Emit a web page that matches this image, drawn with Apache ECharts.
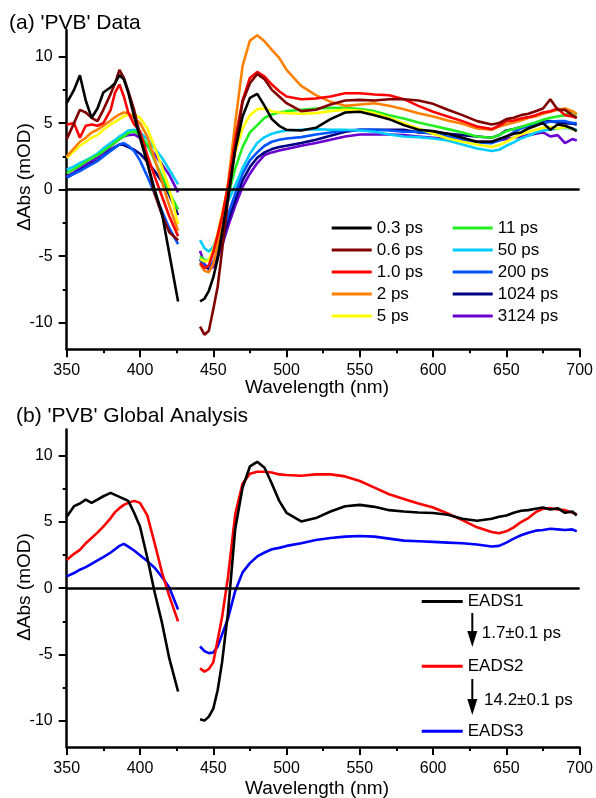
<!DOCTYPE html>
<html><head><meta charset="utf-8">
<script src="https://cdn.jsdelivr.net/npm/echarts@6/dist/echarts.min.js"></script>
<style>html,body{margin:0;padding:0;background:#fff}#c{width:596px;height:798px}</style>
</head><body><div id="c"></div>
<script>
// wavelength grid (nm); 433 is the pump-scatter gap (no data)
const wl = [350,355,359,363,367,371,375,380,383,386,389,392,396,400,405,410,415,420,426,433,
  441,444,447,450,453,456,460,465,470,475,480,485,490,495,500,510,520,530,540,550,560,570,580,590,600,610,620,630,640,645,650,655,660,665,670,675,680,685,690,695,698];

// (a) transient spectra, mOD
const p03 = [6.5,7.5,8.6,6.7,5.4,6.1,7.3,7.7,8.0,8.6,8.3,7.3,5.5,3.9,2.0,0.0,-1.8,-4.8,-8.4,null,
  -8.4,-8.2,-7.6,-6.6,-5.2,-3.2,-0.6,3.0,5.5,6.9,7.2,6.3,5.3,4.8,4.5,4.45,4.65,5.3,5.8,5.85,5.6,5.3,4.85,4.5,4.4,4.2,3.9,3.6,3.6,3.8,4.0,4.2,4.3,4.6,4.8,5.0,4.5,4.9,4.8,4.6,4.4];
const p06 = [3.8,5.0,6.0,5.8,5.4,5.15,6.0,7.2,8.0,9.0,8.4,7.4,6.0,4.1,2.1,-0.3,-1.9,-3.2,-3.8,null,
  -10.3,-10.9,-10.6,-9.0,-7.3,-4.6,-0.8,3.1,6.6,8.0,8.7,8.3,7.5,7.0,6.5,5.9,6.0,6.4,6.7,6.75,6.7,6.8,6.8,6.7,6.45,6.0,5.6,5.15,4.9,5.0,5.3,5.4,5.6,5.7,5.9,6.1,6.8,6.0,6.0,5.6,5.4];
const p10 = [4.9,5.0,3.9,4.8,4.9,4.8,5.0,6.0,7.3,7.9,7.0,5.8,4.9,4.4,2.6,1.0,-0.5,-2.0,-3.5,null,
  -5.5,-5.9,-5.7,-4.7,-3.4,-2.0,0.2,3.8,6.7,8.4,8.85,8.5,7.9,7.4,7.0,6.8,6.85,7.0,7.25,7.25,7.15,7.1,6.8,6.3,5.85,5.5,5.15,4.75,4.55,4.8,5.15,5.2,5.35,5.45,5.6,5.8,5.9,6.1,5.6,5.5,5.4];
const p2 = [2.5,3.1,3.6,3.9,4.3,4.5,4.8,5.2,5.45,5.65,5.8,5.75,5.4,5.0,4.0,2.3,0.6,-1.2,-3.1,null,
  -5.6,-6.1,-6.2,-5.6,-4.2,-2.3,0.4,5.0,9.3,11.2,11.6,11.15,10.5,9.9,9.0,7.8,7.1,6.6,6.3,6.4,6.5,6.3,6.05,5.75,5.5,5.2,4.95,4.6,4.5,4.75,4.9,5.05,5.2,5.4,5.5,5.7,5.85,6.0,6.1,5.9,5.7];
const p5 = [2.4,2.9,3.3,3.6,3.9,4.1,4.5,4.9,5.1,5.3,5.5,5.65,5.65,5.4,4.6,3.2,1.7,0.1,-2.6,null,
  -5.2,-5.4,-5.3,-4.5,-3.3,-1.8,0.2,2.8,4.6,5.6,6.05,6.1,5.9,5.8,5.75,5.7,5.75,5.9,6.0,5.95,5.75,5.4,5.0,4.6,4.2,3.85,3.6,3.4,3.2,3.35,3.6,3.9,4.15,4.35,4.5,4.65,4.7,4.6,4.7,4.55,4.4];
const p11 = [1.25,1.55,1.8,2.1,2.35,2.6,2.9,3.3,3.55,3.8,4.0,4.25,4.4,4.1,3.4,2.2,1.0,-0.2,-1.5,null,
  -5.0,-5.3,-5.3,-4.7,-3.6,-2.3,-0.5,1.6,3.2,4.3,4.85,5.4,5.65,5.8,5.9,6.0,6.1,6.15,6.15,6.05,5.9,5.6,5.35,5.05,4.8,4.55,4.3,4.0,3.9,4.1,4.4,4.55,4.7,4.9,5.05,5.25,5.4,5.5,5.6,5.9,5.6];
const p50 = [1.5,1.75,2.0,2.2,2.45,2.7,3.1,3.5,3.75,4.0,4.2,4.45,4.5,4.3,3.8,3.1,2.4,1.5,0.4,null,
  -3.8,-4.4,-4.65,-4.3,-3.4,-2.3,-0.9,0.3,1.6,2.7,3.5,3.95,4.2,4.35,4.45,4.5,4.55,4.5,4.5,4.45,4.35,4.15,4.0,3.95,3.85,3.7,3.4,3.1,2.9,3.0,3.3,3.55,3.85,4.05,4.3,4.45,4.5,4.6,4.65,4.55,4.5];
const p200 = [0.9,1.2,1.4,1.65,1.9,2.15,2.5,2.9,3.15,3.4,3.5,3.3,2.9,2.2,1.0,-0.3,-1.6,-2.9,-4.1,null,
  -5.3,-5.7,-5.8,-5.4,-4.5,-3.4,-1.9,-0.3,1.2,2.2,2.8,3.3,3.6,3.75,3.85,3.95,4.15,4.3,4.45,4.5,4.5,4.45,4.35,4.35,4.2,4.0,3.8,3.55,3.5,3.7,4.0,4.3,4.6,4.8,4.9,5.0,5.1,5.15,5.15,5.0,5.0];
const p1024 = [0.9,1.2,1.45,1.7,1.95,2.2,2.55,3.0,3.2,3.4,3.35,3.2,3.0,2.7,2.1,1.4,0.6,-0.4,-1.9,null,
  -5.2,-5.8,-5.9,-5.6,-4.9,-3.9,-2.4,-0.8,0.7,1.7,2.4,2.8,3.05,3.2,3.3,3.5,3.75,4.05,4.35,4.5,4.5,4.5,4.5,4.3,4.25,4.2,4.1,4.0,3.9,4.1,4.45,4.55,4.7,4.8,4.95,5.1,5.15,5.05,5.0,4.95,4.9];
const p3124 = [1.0,1.3,1.6,1.9,2.15,2.45,2.8,3.25,3.55,3.8,4.0,4.1,4.15,3.9,3.3,2.65,1.9,1.1,-0.2,null,
  -4.6,-5.6,-6.0,-5.8,-5.1,-4.2,-2.8,-1.2,0.2,1.2,2.0,2.6,2.8,2.95,3.05,3.3,3.5,3.75,4.0,4.15,4.15,4.15,4.1,4.0,3.9,3.8,3.7,3.6,3.6,3.7,3.8,3.9,4.0,4.1,4.2,4.3,4.0,4.1,3.5,3.8,3.7];

// (b) global analysis EADS, mOD
const eads1 = [5.4,6.2,6.4,6.7,6.45,6.7,6.95,7.2,7.05,6.9,6.75,6.6,5.7,4.66,2.3,-0.3,-2.6,-5.3,-7.8,null,
  -9.9,-10.0,-9.7,-9.1,-7.7,-5.6,-1.9,4.5,7.6,9.2,9.55,9.1,7.9,6.6,5.7,5.05,5.3,5.8,6.2,6.3,6.15,5.9,5.8,5.72,5.68,5.55,5.25,5.1,5.25,5.4,5.5,5.7,5.85,5.9,6.0,6.1,5.95,6.05,5.7,5.8,5.5];
const eads2 = [2.14,2.6,2.9,3.4,3.8,4.2,4.65,5.3,5.75,6.05,6.3,6.45,6.6,6.45,5.5,3.4,1.2,-0.6,-2.5,null,
  -6.05,-6.3,-6.1,-5.6,-3.9,-2.2,0.8,5.6,7.9,8.65,8.8,8.8,8.75,8.6,8.55,8.5,8.6,8.6,8.45,8.1,7.6,7.1,6.75,6.4,6.1,5.65,5.15,4.6,4.25,4.15,4.3,4.6,5.0,5.3,5.75,6.0,6.05,5.95,5.9,5.7,5.6];
const eads3 = [0.9,1.15,1.4,1.6,1.85,2.1,2.35,2.7,2.95,3.2,3.35,3.15,2.85,2.5,2.05,1.55,0.85,0.05,-1.6,null,
  -4.4,-4.75,-4.9,-4.85,-4.4,-3.5,-2.3,-0.2,1.2,1.9,2.4,2.7,2.95,3.05,3.2,3.4,3.65,3.8,3.9,3.95,3.9,3.75,3.6,3.55,3.5,3.45,3.4,3.3,3.15,3.2,3.45,3.75,4.0,4.2,4.35,4.4,4.5,4.45,4.4,4.45,4.3];

const namesA = ['0.3 ps','0.6 ps','1.0 ps','2 ps','5 ps','11 ps','50 ps','200 ps','1024 ps','3124 ps'];
const valsA = [p03,p06,p10,p2,p5,p11,p50,p200,p1024,p3124];
const colorsA = ['#000000','#800000','#ff0000','#ff8000','#ffff00','#22ee22','#00ccff','#0055ff','#000080','#6a00d0'];
const namesB = ['EADS1','EADS2','EADS3'];
const valsB = [eads1,eads2,eads3];
const colorsB = ['#000000','#ff0000','#0000ff'];
const yMajor = [-10,-5,0,5,10];
const yMinor = [-7.5,-2.5,2.5,7.5];

const FONT = '"Liberation Sans", Arial, sans-serif';
function pairs(ys){ return wl.map((x,i)=>[x, ys[i]===null ? '-' : ys[i]]); }

const grids = [
  {left:66.7, top:30, width:515, height:319.3},
  {left:66.7, top:429.4, width:515, height:317.7}
];
const xAxes = grids.map((g,i)=>({
  type:'value', gridIndex:i, min:350, max:700, interval:50,
  axisLine:{onZero:false, lineStyle:{color:'#000', width:2.5}},
  axisTick:{length:8, lineStyle:{width:2, color:'#000'}},
  minorTick:{show:true, splitNumber:2, length:4, lineStyle:{width:2, color:'#000'}},
  axisLabel:{color:'#000', fontSize:16, fontFamily:FONT, margin:13},
  splitLine:{show:false}, minorSplitLine:{show:false}
}));
const yAxes = [];
grids.forEach((g,i)=>{
  yAxes.push({type:'value', gridIndex:i, min:-12, max:12, position:'left',
    axisLine:{onZero:false, lineStyle:{color:'#000', width:2.5}},
    axisTick:{length:8, lineStyle:{width:2, color:'#000'}, customValues:yMajor},
    axisLabel:{color:'#000', fontSize:16, fontFamily:FONT, margin:14, customValues:yMajor},
    splitLine:{show:false}});
  yAxes.push({type:'value', gridIndex:i, min:-12, max:12, position:'left', offset:0,
    axisLine:{show:false}, axisLabel:{show:false}, splitLine:{show:false},
    axisTick:{length:4, lineStyle:{width:2, color:'#000'}, customValues:yMinor}});
});

const zeroLine = {silent:true, symbol:['none','none'], label:{show:false},
  lineStyle:{color:'#000', width:2.6, type:'solid'}, data:[{yAxis:0}], animation:false};

const series = [];
for (let k = namesA.length-1; k >= 0; k--) {
  series.push({type:'line', name:namesA[k], xAxisIndex:0, yAxisIndex:0, data:pairs(valsA[k]),
    showSymbol:false, symbol:'none', connectNulls:false, animation:false,
    lineStyle:{color:colorsA[k], width:2.6}, itemStyle:{color:colorsA[k]},
    markLine: k === namesA.length-1 ? zeroLine : undefined});
}
for (let k = namesB.length-1; k >= 0; k--) {
  series.push({type:'line', name:namesB[k], xAxisIndex:1, yAxisIndex:2, data:pairs(valsB[k]),
    showSymbol:false, symbol:'none', connectNulls:false, animation:false,
    lineStyle:{color:colorsB[k], width:2.6}, itemStyle:{color:colorsB[k]},
    markLine: k === namesB.length-1 ? zeroLine : undefined});
}

const legendBase = {orient:'vertical', icon:'rect', itemWidth:40, itemHeight:3, selectedMode:false,
  textStyle:{fontSize:17, fontFamily:FONT, color:'#000', lineHeight:16.3}, padding:0};

function txt(text, x, y, size, opts){
  return Object.assign({type:'text', x:x, y:y, silent:true,
    style:{text:text, fill:'#000', font: size+'px '+FONT, align:'left', verticalAlign:'middle'}}, opts||{});
}
function arrow(x, y1, y2){
  return {type:'group', silent:true, children:[
    {type:'line', shape:{x1:x, y1:y1, x2:x, y2:y2-12}, style:{stroke:'#000', lineWidth:2}},
    {type:'polygon', shape:{points:[[x-5,y2-16],[x+5,y2-16],[x,y2]]}, style:{fill:'#000'}}
  ]};
}
const centerText = (t,x,y,s,rot)=>({type:'text', x:x, y:y, rotation:rot||0, silent:true,
  style:{text:t, fill:'#000', font:s+'px '+FONT, align:'center', verticalAlign:'middle'}});

const option = {
  backgroundColor:'#fff',
  animation:false,
  grid: grids,
  xAxis: xAxes,
  yAxis: yAxes,
  legend: [
    Object.assign({}, legendBase, {data:namesA.slice(0,5), left:331.7, top:219.5, itemGap:5}),
    Object.assign({}, legendBase, {data:namesA.slice(5), left:452.7, top:219.5, itemGap:5}),
    Object.assign({}, legendBase, {data:namesB, left:421.7, top:592.9, itemWidth:41, itemGap:47.9})
  ],
  series: series,
  graphic: [
    txt("(a) 'PVB' Data", 9, 23, 21),
    txt("(b) 'PVB' Global Analysis", 16, 416, 21),
    centerText('\u0394Abs (mOD)', 25, 177, 19, Math.PI/2),
    centerText('\u0394Abs (mOD)', 25, 587, 19, Math.PI/2),
    centerText('Wavelength (nm)', 317, 388, 19),
    centerText('Wavelength (nm)', 317, 789, 19),
    arrow(472.3, 613, 647),
    arrow(472.3, 679, 715),
    txt('1.7\u00b10.1 ps', 481.7, 633, 17),
    txt('14.2\u00b10.1 ps', 484, 700, 17)
  ]
};
const chart = echarts.init(document.getElementById('c'), null, {renderer:'canvas'});
chart.setOption(option);
</script>
</body></html>
